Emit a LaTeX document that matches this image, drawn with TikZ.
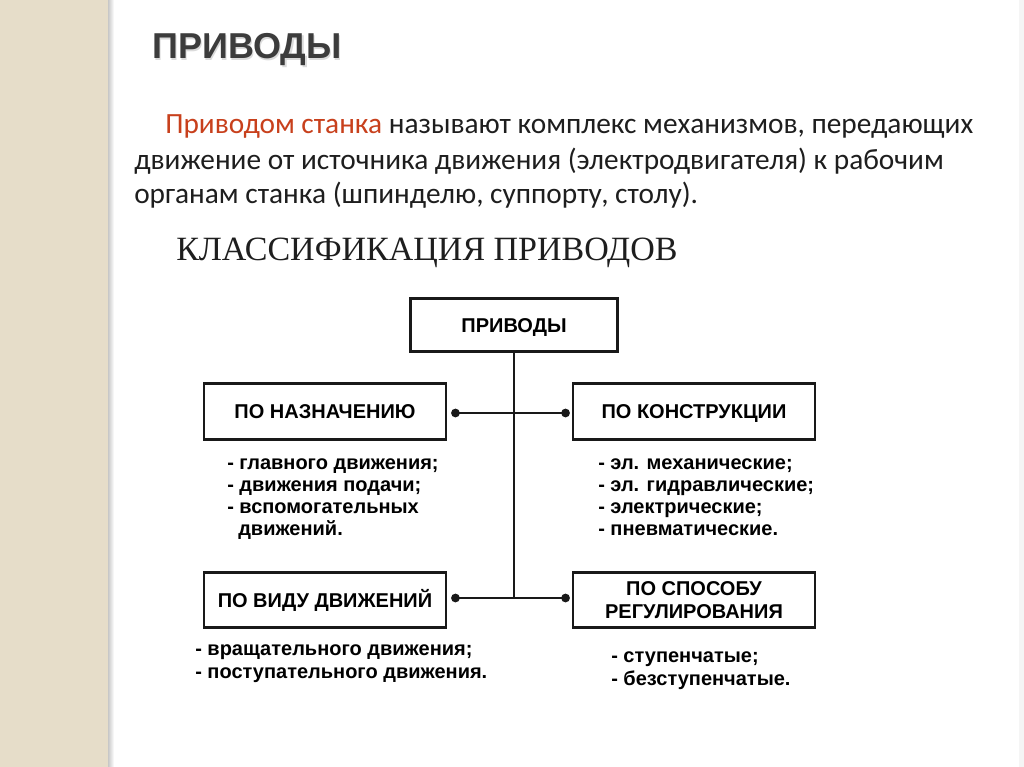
\documentclass[tikz,border=0pt]{standalone}
\usepackage{fontspec}
\setmainfont{Liberation Sans}
\newfontfamily\bodyfont{Carlito}
\newfontfamily\serifru{Liberation Serif}
\usetikzlibrary{calc}
\definecolor{stripcol}{HTML}{E6DDC9}
\definecolor{titlecol}{HTML}{3C3C3C}
\definecolor{accent}{HTML}{C8401C}
\definecolor{txt}{HTML}{1E1E1E}
\newcommand{\shadowtitle}[1]{\makebox[0pt][l]{\hspace{1.2pt}\raisebox{-1.4pt}{\textcolor{black!14}{#1}}}#1}
\tikzset{
  boxfont/.style={font=\fontsize{15}{17}\selectfont\bfseries},
  box/.style={draw=black!90, line width=2.2pt, fill=white, inner sep=0pt, boxfont, align=center},
  oneline/.style={text height=10.9pt, text depth=0pt},
  topbox/.style={box, oneline, minimum width=155pt, minimum height=40pt},
  catbox/.style={box, minimum width=181.5pt, minimum height=41.5pt},
  conn/.style={line width=1.9pt, draw=black!90},
  dot/.style={fill=black!90},
  item/.style={anchor=base west, inner sep=0pt, boxfont, text=black},
  para/.style={anchor=base west, inner sep=0pt, font=\bodyfont\fontsize{22}{26}\selectfont, text=txt},
}
\begin{document}
\begin{tikzpicture}[x=0.75pt,y=-0.75pt]
\useasboundingbox (0,0) rectangle (1024,767);
\fill[white] (0,0) rectangle (1024,767);
\fill[stripcol] (0,0) rectangle (108,767);
\shade[left color=black!22, right color=white] (108,0) rectangle (114,767);
\fill[black!4] (1019,0) rectangle (1024,767);

% title
\node[anchor=base west, inner sep=0pt, text=titlecol, font=\fontsize{27}{31}\selectfont\bfseries] (title) at (152,59) {\shadowtitle{ПРИВОДЫ}};

% paragraph
\node[para] (p1) at (165,133) {\textcolor{accent}{Приводом станка} называют комплекс механизмов, передающих};
\node[para] (p2) at (134,169) {движение от источника движения (электродвигателя) к рабочим};
\node[para] (p3) at (134,203) {органам станка (шпинделю, суппорту, столу).};

% subtitle
\node[anchor=base west, inner sep=0pt, text=txt, font=\serifru\fontsize{25.5}{30}\selectfont] (sub) at (176,260) {КЛАССИФИКАЦИЯ ПРИВОДОВ};

% boxes
\node[topbox] (priv) at (514,325) {ПРИВОДЫ};
\node[catbox, oneline] (nazn) at (325,411.5) {ПО НАЗНАЧЕНИЮ};
\node[catbox, oneline] (konstr) at (694,411.5) {ПО КОНСТРУКЦИИ};
\node[catbox, oneline] (vid) at (325,600) {ПО ВИДУ ДВИЖЕНИЙ};
\node[catbox] (sposob) at (694,600) {ПО СПОСОБУ\\РЕГУЛИРОВАНИЯ};

% connectors
\coordinate (a1) at ($(nazn.east)+(8,1.5)$);
\coordinate (a2) at ($(konstr.west)+(-6,1.5)$);
\coordinate (b1) at ($(vid.east)+(8,-2)$);
\coordinate (b2) at ($(sposob.west)+(-6,-2)$);
\draw[conn] (a1) -- (a2);
\draw[conn] (b1) -- (b2);
\draw[conn] (priv.south) -- (priv.south |- b1);
\fill[dot] (a1) circle (3.3pt);
\fill[dot] (a2) circle (3.3pt);
\fill[dot] (b1) circle (3.3pt);
\fill[dot] (b2) circle (3.3pt);

% lists
\node[item] (l1) at (227,469) {- главного движения;};
\node[item] (l2) at (227,491) {- движения подачи;};
\node[item] (l3) at (227,513) {- вспомогательных};
\node[item] (l4) at (238,535) {движений.};

\node[item] (r1) at (598,469) {- эл. механические;};
\node[item] (r2) at (598,491) {- эл. гидравлические;};
\node[item] (r3) at (598,513) {- электрические;};
\node[item] (r4) at (598,535) {- пневматические.};

\node[item] (v1) at (195,655) {- вращательного движения;};
\node[item] (v2) at (195,678) {- поступательного движения.};

\node[item] (s1) at (611,662) {- ступенчатые;};
\node[item] (s2) at (611,685) {- безступенчатые.};
\end{tikzpicture}
\end{document}
